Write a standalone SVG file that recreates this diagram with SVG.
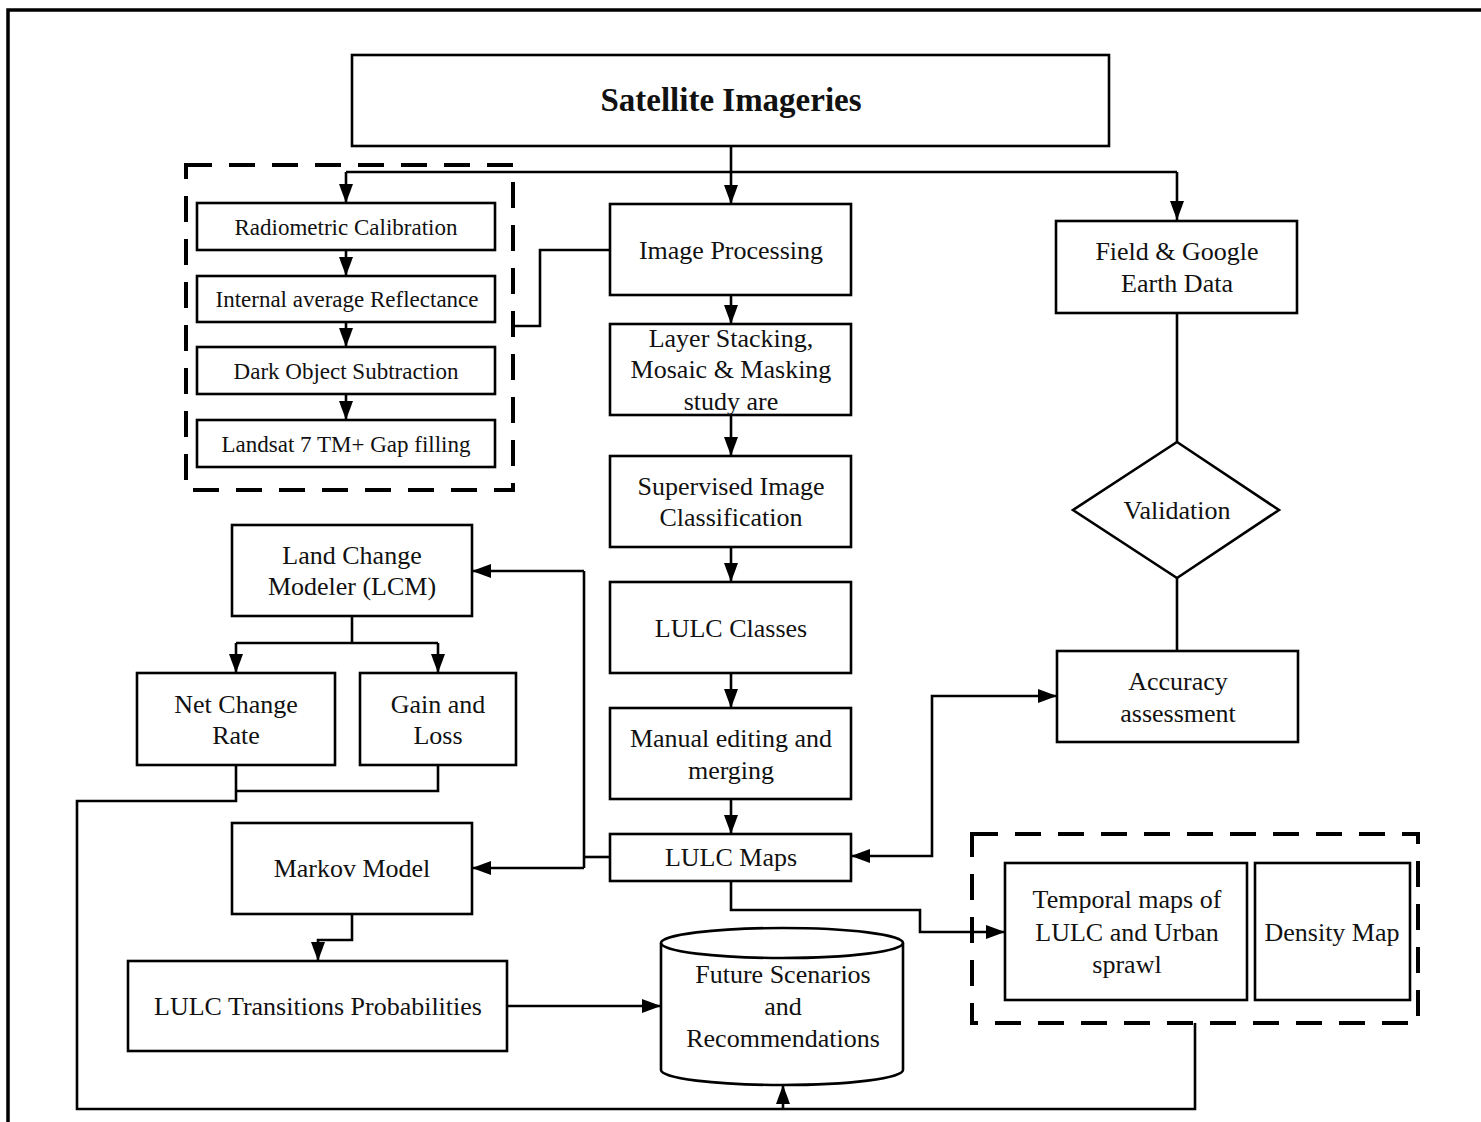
<svg xmlns="http://www.w3.org/2000/svg" width="1481" height="1122" viewBox="0 0 1481 1122">
<style>
.box{fill:#fff;stroke:#000;stroke-width:2.6}
.dash{fill:none;stroke:#000;stroke-width:4;stroke-dasharray:26 17}
.c{fill:none;stroke:#000;stroke-width:2.6}
.a{marker-end:url(#ah)}
text{font-family:"Liberation Serif","Times New Roman",serif;fill:#111;text-anchor:middle}
.t{font-size:26px}
.s{font-size:23px}
.h{font-size:33px;font-weight:bold}
</style>
<defs>
<marker id="ah" markerUnits="userSpaceOnUse" markerWidth="20" markerHeight="16" refX="19" refY="7" orient="auto-start-reverse">
<path d="M0,0 L19,7 L0,14 z" fill="#000"/>
</marker>
</defs>
<rect x="0" y="0" width="1481" height="1122" fill="#fff"/>
<rect x="8" y="10" width="1500" height="1200" fill="none" stroke="#000" stroke-width="3.5"/>

<g id="preprocessing-group">
<rect class="dash" x="186" y="165" width="327" height="325"/>
</g>
<g id="outputs-group">
<rect class="dash" x="972" y="834" width="446" height="189"/>
</g>

<g id="connectors">
<path class="c a" d="M731,146 V204"/>
<path class="c" d="M346,172 H1177"/>
<path class="c a" d="M346,172 V203"/>
<path class="c a" d="M1177,172 V220"/>
<path class="c a" d="M346,250 V276"/>
<path class="c a" d="M346,322 V347"/>
<path class="c a" d="M346,394 V420"/>
<path class="c" d="M610,250 H540 V326 H513"/>
<path class="c a" d="M731,295 V324"/>
<path class="c a" d="M731,415 V456"/>
<path class="c a" d="M731,547 V582"/>
<path class="c a" d="M731,673 V708"/>
<path class="c a" d="M731,799 V834"/>
<path class="c" d="M1177,313 V442"/>
<path class="c" d="M1177,578 V651"/>
<path class="c" d="M851,856 H932 V696 H1057" marker-start="url(#ah)" marker-end="url(#ah)"/>
<path class="c" d="M610,857 H584"/>
<path class="c" d="M584,571 V868"/>
<path class="c a" d="M584,571 H472"/>
<path class="c a" d="M584,868 H472"/>
<path class="c" d="M352,616 V643"/>
<path class="c" d="M236,643 H438"/>
<path class="c a" d="M236,643 V673"/>
<path class="c a" d="M438,643 V673"/>
<path class="c" d="M236,765 V801 H77 V1109 H1195 V1023"/>
<path class="c" d="M438,765 V791 H236"/>
<path class="c a" d="M783,1109 V1085"/>
<path class="c a" d="M352,914 V940 H318 V961"/>
<path class="c a" d="M507,1006 H661"/>
<path class="c a" d="M731,881 V910 H920 V932 H1005"/>
</g>

<g id="satellite-imageries">
<rect class="box" x="352" y="55" width="757" height="91"/>
<text class="h" x="731" y="111">Satellite Imageries</text>
</g>
<g id="radiometric-calibration">
<rect class="box" x="197" y="203" width="298" height="47"/>
<text class="s" x="346" y="235">Radiometric Calibration</text>
</g>
<g id="internal-average-reflectance">
<rect class="box" x="197" y="276" width="298" height="46"/>
<text class="s" x="347" y="307">Internal average Reflectance</text>
</g>
<g id="dark-object-subtraction">
<rect class="box" x="197" y="347" width="298" height="47"/>
<text class="s" x="346" y="379">Dark Object Subtraction</text>
</g>
<g id="gap-filling">
<rect class="box" x="197" y="420" width="298" height="47"/>
<text class="s" x="346" y="452">Landsat 7 TM+ Gap filling</text>
</g>
<g id="image-processing">
<rect class="box" x="610" y="204" width="241" height="91"/>
<text class="t" x="731" y="259">Image Processing</text>
</g>
<g id="layer-stacking">
<rect class="box" x="610" y="324" width="241" height="91"/>
<text class="t" x="731" y="347">Layer Stacking,</text>
<text class="t" x="731" y="378">Mosaic &amp; Masking</text>
<text class="t" x="731" y="410">study are</text>
</g>
<g id="supervised-classification">
<rect class="box" x="610" y="456" width="241" height="91"/>
<text class="t" x="731" y="495">Supervised Image</text>
<text class="t" x="731" y="526">Classification</text>
</g>
<g id="lulc-classes">
<rect class="box" x="610" y="582" width="241" height="91"/>
<text class="t" x="731" y="637">LULC Classes</text>
</g>
<g id="manual-editing">
<rect class="box" x="610" y="708" width="241" height="91"/>
<text class="t" x="731" y="747">Manual editing and</text>
<text class="t" x="731" y="779">merging</text>
</g>
<g id="lulc-maps">
<rect class="box" x="610" y="834" width="241" height="47"/>
<text class="t" x="731" y="866">LULC Maps</text>
</g>
<g id="field-google-earth">
<rect class="box" x="1056" y="221" width="241" height="92"/>
<text class="t" x="1177" y="260">Field &amp; Google</text>
<text class="t" x="1177" y="292">Earth Data</text>
</g>
<g id="validation">
<polygon class="box" points="1177,442 1279,510 1177,578 1073,510"/>
<text class="t" x="1177" y="519">Validation</text>
</g>
<g id="accuracy-assessment">
<rect class="box" x="1057" y="651" width="241" height="91"/>
<text class="t" x="1178" y="690">Accuracy</text>
<text class="t" x="1178" y="722">assessment</text>
</g>
<g id="land-change-modeler">
<rect class="box" x="232" y="525" width="240" height="91"/>
<text class="t" x="352" y="564">Land Change</text>
<text class="t" x="352" y="595">Modeler (LCM)</text>
</g>
<g id="net-change-rate">
<rect class="box" x="137" y="673" width="198" height="92"/>
<text class="t" x="236" y="713">Net Change</text>
<text class="t" x="236" y="744">Rate</text>
</g>
<g id="gain-and-loss">
<rect class="box" x="360" y="673" width="156" height="92"/>
<text class="t" x="438" y="713">Gain and</text>
<text class="t" x="438" y="744">Loss</text>
</g>
<g id="markov-model">
<rect class="box" x="232" y="823" width="240" height="91"/>
<text class="t" x="352" y="877">Markov Model</text>
</g>
<g id="transition-probabilities">
<rect class="box" x="128" y="961" width="379" height="90"/>
<text class="t" x="318" y="1015">LULC Transitions Probabilities</text>
</g>
<g id="future-scenarios">
<path class="box" d="M661,943 A121,15 0 0,1 903,943 V1070 A121,15 0 0,1 661,1070 Z"/>
<path class="c" d="M661,943 A121,15 0 0,0 903,943"/>
<text class="t" x="783" y="983">Future Scenarios</text>
<text class="t" x="783" y="1015">and</text>
<text class="t" x="783" y="1047">Recommendations</text>
</g>
<g id="temporal-maps">
<rect class="box" x="1005" y="863" width="242" height="137"/>
<text class="t" x="1127" y="908">Temporal maps of</text>
<text class="t" x="1127" y="941">LULC and Urban</text>
<text class="t" x="1127" y="973">sprawl</text>
</g>
<g id="density-map">
<rect class="box" x="1255" y="863" width="155" height="137"/>
<text class="t" x="1332" y="941">Density Map</text>
</g>
</svg>
